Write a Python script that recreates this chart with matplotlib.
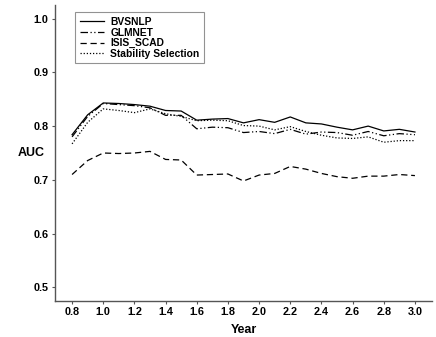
import matplotlib
matplotlib.use("Agg")
import matplotlib.pyplot as plt
import numpy as np

years = [0.8, 0.9, 1.0, 1.1, 1.2, 1.3, 1.4, 1.5, 1.6, 1.7, 1.8, 1.9,
         2.0, 2.1, 2.2, 2.3, 2.4, 2.5, 2.6, 2.7, 2.8, 2.9, 3.0]
bvsnlp = [0.784, 0.821, 0.843, 0.842, 0.840, 0.837, 0.829, 0.828, 0.811, 0.813,
          0.814, 0.806, 0.812, 0.807, 0.817, 0.806, 0.804, 0.798, 0.793, 0.800,
          0.791, 0.794, 0.789]
glmnet = [0.780, 0.818, 0.842, 0.840, 0.838, 0.834, 0.820, 0.820, 0.795, 0.798,
          0.797, 0.788, 0.790, 0.786, 0.794, 0.785, 0.789, 0.788, 0.783, 0.790,
          0.782, 0.786, 0.784]
isis_scad = [0.710, 0.736, 0.750, 0.749, 0.750, 0.753, 0.738, 0.737, 0.709, 0.710,
             0.711, 0.698, 0.709, 0.712, 0.725, 0.720, 0.712, 0.706, 0.703, 0.707,
             0.707, 0.710, 0.708]
stability = [0.767, 0.807, 0.832, 0.829, 0.825, 0.832, 0.823, 0.818, 0.810, 0.811,
             0.810, 0.801, 0.800, 0.793, 0.799, 0.790, 0.783, 0.778, 0.777, 0.780,
             0.770, 0.773, 0.773]
series_names = ["BVSNLP", "GLMNET", "ISIS_SCAD", "Stability Selection"]
xticks = [0.8, 1.0, 1.2, 1.4, 1.6, 1.8, 2.0, 2.2, 2.4, 2.6, 2.8, 3.0]
yticks = [0.5, 0.6, 0.7, 0.8, 0.9, 1.0]

plt.rcParams['font.family'] = ['Liberation Sans', 'DejaVu Sans']
fig = plt.figure(figsize=(4.36, 3.37), dpi=100)
ax = fig.add_axes([0.126, 0.107, 0.865, 0.878])

styles = ['-', (0, (6, 2, 1, 2, 1, 2)), (0, (5, 3)), (0, (1, 1.5))]
for vals, name, ls in zip([bvsnlp, glmnet, isis_scad, stability], series_names, styles):
    ax.plot(years, vals, color='black', linestyle=ls, linewidth=0.9, label=name)

ax.set_xlim(0.69, 3.11)
ax.set_ylim(0.475, 1.025)
ax.set_xticks(xticks)
ax.set_xticklabels([f"{t:.1f}" for t in xticks])
ax.set_yticks(yticks)
ax.set_yticklabels([f"{t:.1f}" for t in yticks])
for s in ['top', 'right']:
    ax.spines[s].set_visible(False)
for s in ['left', 'bottom']:
    ax.spines[s].set_color('#555555')
    ax.spines[s].set_linewidth(1.0)
ax.tick_params(axis='both', length=2.5, width=0.8, color='#555555',
               labelsize=7.8, pad=2)
for lab in ax.get_xticklabels() + ax.get_yticklabels():
    lab.set_fontweight('bold')
    lab.set_color('black')

ax.set_xlabel('Year', fontsize=9, fontweight='bold', labelpad=5)
ax.set_ylabel('AUC', fontsize=9, fontweight='bold', rotation=0, va='center')
ax.yaxis.set_label_coords(-0.062, 0.5)

leg = ax.legend(loc='upper left', bbox_to_anchor=(0.053, 0.975), frameon=True,
                fancybox=False, prop={'size': 7.4, 'weight': 'bold'},
                handlelength=2.4, handletextpad=0.6, labelspacing=0.05,
                borderpad=0.45, borderaxespad=0)
leg.get_frame().set_edgecolor('#777777')
leg.get_frame().set_linewidth(0.8)

fig.savefig('out.png', dpi=100)
